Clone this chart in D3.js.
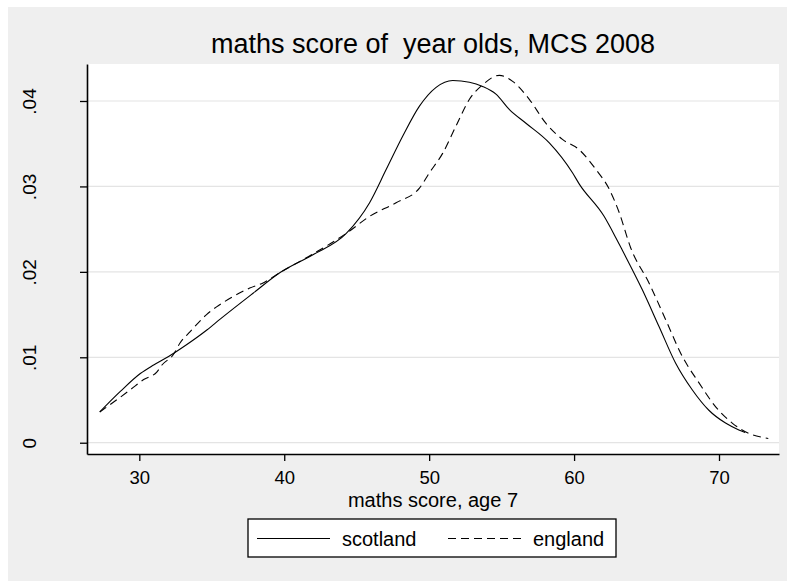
<!DOCTYPE html>
<html>
<head>
<meta charset="utf-8">
<script src="https://cdn.jsdelivr.net/npm/d3@7"></script>
<style>
  body { margin: 0; background: #fff; }
  text { font-family: "Liberation Sans", Arial, sans-serif; fill: #000; }
</style>
</head>
<body>
<div id="chart"></div>
<script>
// density estimates
var scotlandScore = [27.27, 28.69, 30.07, 30.99, 32.02, 33.28, 34.66, 35.6, 37.85, 39.69, 41.98, 44.28,
  45.89, 47.04, 48.18, 49.33, 50.48, 51.63, 52.78, 53.69, 54.61, 55.54, 56.68, 58.29, 59.89, 60.35,
  62.07, 62.88, 63.34, 64.71, 65.86, 67.01, 68.15, 69.3, 70.45, 71.37, 71.8];
var scotlandDens = [.0036, .0060, .0081, .0091, .0101, .0115, .0132, .0145, .0175, .0199, .0220, .0245,
  .0281, .0320, .0359, .0394, .0416, .0424, .0422, .0417, .0408, .0390, .0374, .0351, .0316, .0303,
  .0265, .0240, .0225, .0179, .0136, .0093, .0062, .0038, .0023, .0015, .0012];

var englandScore = [27.27, 29.38, 30.3, 31.22, 31.56, 32.34, 32.82, 33.51, 34.64, 35.33, 36.47, 37.62,
  38.54, 39.69, 41.98, 44.28, 45.89, 47.72, 49.33, 50.02, 50.94, 51.86, 52.78, 53.69, 54.84, 55.76,
  56.91, 58.05, 59.2, 60.35, 61.5, 62.42, 63.1, 63.91, 65.17, 66.32, 67.47, 68.62, 69.77, 70.91,
  72.06, 73.1, 73.4];
var englandDens = [.0036, .0062, .0074, .0083, .0091, .0103, .0117, .0130, .0150, .0159, .0171, .0181,
  .0187, .0199, .0221, .0245, .0265, .0281, .0298, .0316, .0339, .0371, .0402, .0419, .0430, .0423,
  .0402, .0374, .0355, .0343, .0320, .0297, .0270, .0228, .0187, .0144, .0101, .0070, .0042, .0023,
  .0011, .0006, .0005];

var xTicks = [30, 40, 50, 60, 70];
var yTicks = [0, .01, .02, .03, .04];
var yTickLabels = ["0", ".01", ".02", ".03", ".04"];
var seriesNames = ["scotland", "england"];

var W = 787, H = 581;
var plot = {left: 87, right: 779, top: 64, bottom: 454};

var svg = d3.select("#chart").append("svg")
    .attr("width", W)
    .attr("height", H);

// graph region
svg.append("rect")
    .attr("x", 8).attr("y", 7)
    .attr("width", W - 8).attr("height", H - 7)
    .attr("fill", "#efefef");

svg.append("rect")
    .attr("x", plot.left).attr("y", plot.top)
    .attr("width", plot.right - plot.left).attr("height", plot.bottom - plot.top)
    .attr("fill", "#fff");

var x = d3.scaleLinear()
    .domain([26.39, 74.14])
    .range([plot.left, plot.right]);

var y = d3.scaleLinear()
    .domain([-0.00132, 0.04433])
    .range([plot.bottom, plot.top]);

// grid
svg.append("g")
  .selectAll("line")
  .data(yTicks)
  .enter()
  .append("line")
    .attr("x1", plot.left)
    .attr("x2", plot.right)
    .attr("y1", function(d) { return y(d); })
    .attr("y2", function(d) { return y(d); })
    .attr("stroke", "#e4e4e4")
    .attr("stroke-width", 1.2);

// x axis
var xAxis = svg.append("g")
    .attr("transform", "translate(0," + plot.bottom + ")")
    .call(d3.axisBottom(x).tickValues(xTicks).tickSize(7).tickSizeOuter(0).tickPadding(9));
xAxis.select(".domain").attr("stroke-width", 1.6);
xAxis.selectAll(".tick line").attr("stroke-width", 1.3);
xAxis.selectAll("text")
    .attr("y", 30).attr("dy", null)
    .style("font-size", "18.5px")
    .style("font-family", "Liberation Sans, Arial, sans-serif");

// y axis
var yAxis = svg.append("g")
    .attr("transform", "translate(" + plot.left + ",0)")
    .call(d3.axisLeft(y).tickValues(yTicks).tickSize(7).tickSizeOuter(0)
      .tickFormat(function(d, i) { return yTickLabels[i]; }));
yAxis.select(".domain").attr("stroke-width", 1.6);
yAxis.selectAll(".tick line").attr("stroke-width", 1.3);
yAxis.selectAll("text")
    .attr("x", null).attr("dy", null)
    .attr("transform", "translate(-58,0) rotate(-90)")
    .attr("text-anchor", "middle")
    .attr("dominant-baseline", "central")
    .style("font-size", "19px")
    .style("font-family", "Liberation Sans, Arial, sans-serif");

// curves
var line = d3.line()
    .x(function(d) { return x(d[0]); })
    .y(function(d) { return y(d[1]); })
    .curve(d3.curveMonotoneX);

svg.append("path")
    .datum(d3.zip(scotlandScore, scotlandDens))
    .attr("d", line)
    .attr("fill", "none")
    .attr("stroke", "#000")
    .attr("stroke-width", 1.1);

svg.append("path")
    .datum(d3.zip(englandScore, englandDens))
    .attr("d", line)
    .attr("fill", "none")
    .attr("stroke", "#000")
    .attr("stroke-width", 1.1)
    .attr("stroke-dasharray", "8,5");

// titles
var cx = (plot.left + plot.right) / 2;
svg.append("text")
    .attr("x", cx).attr("y", 53)
    .attr("text-anchor", "middle")
    .style("font-size", "27px")
    .style("white-space", "pre")
    .text("maths score of  year olds, MCS 2008");

svg.append("text")
    .attr("x", cx).attr("y", 507)
    .attr("text-anchor", "middle")
    .style("font-size", "20px")
    .text("maths score, age 7");

// legend
var leg = svg.append("g");
leg.append("rect")
    .attr("x", 248).attr("y", 519)
    .attr("width", 368).attr("height", 38)
    .attr("fill", "#fff")
    .attr("stroke", "#000")
    .attr("stroke-width", 1.3);

var legItems = [
  {name: seriesNames[0], x0: 257, dash: null},
  {name: seriesNames[1], x0: 448, dash: "8,5"}
];
legItems.forEach(function(it) {
  leg.append("line")
      .attr("x1", it.x0).attr("x2", it.x0 + 73)
      .attr("y1", 538.5).attr("y2", 538.5)
      .attr("stroke", "#000")
      .attr("stroke-width", 1.1)
      .attr("stroke-dasharray", it.dash);
  leg.append("text")
      .attr("x", it.x0 + 85).attr("y", 546)
      .style("font-size", "20px")
      .text(it.name);
});
</script>
</body>
</html>
